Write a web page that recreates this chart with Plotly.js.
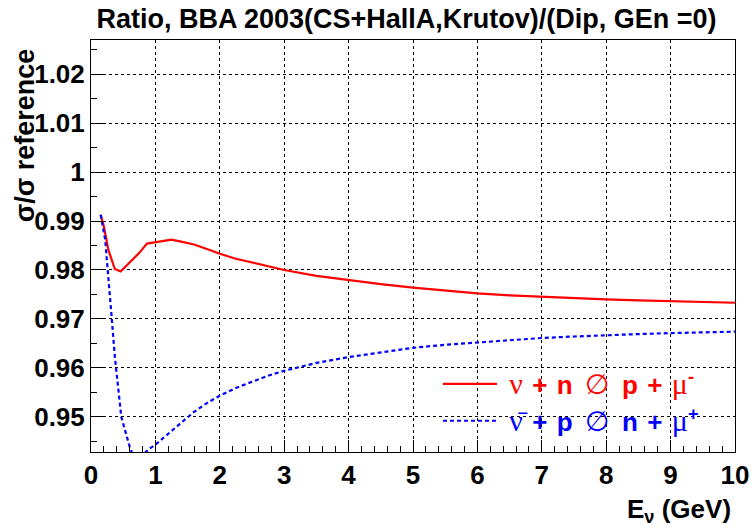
<!DOCTYPE html>
<html>
<head>
<meta charset="utf-8">
<script src="https://cdn.plot.ly/plotly-3.0.1.min.js"></script>
<style>
html,body{margin:0;padding:0;background:#fff;}
#chart{width:754px;height:531px;}
</style>
</head>
<body>
<div id="chart"></div>
<script>
// ---- data ----
var energyNu = [0.15, 0.2, 0.27, 0.37, 0.46, 0.6, 0.75, 0.87, 1.0, 1.25, 1.4, 1.6, 1.8, 2.0, 2.25, 2.5, 2.75, 3.0, 3.5, 4.0, 4.5, 5.0, 5.5, 6.0, 6.5, 7.0, 7.5, 8.0, 8.5, 9.0, 9.5, 10.0];
var ratioNu = [0.9913, 0.9889, 0.9841, 0.9802, 0.9797, 0.9815, 0.9835, 0.9854, 0.9857, 0.9862, 0.9858, 0.9852, 0.9843, 0.9833, 0.9823, 0.9815, 0.9807, 0.9800, 0.9788, 0.9779, 0.9771, 0.9764, 0.9758, 0.9752, 0.9748, 0.9745, 0.9742, 0.9740, 0.9738, 0.9736, 0.9734, 0.9733];

var energyNuBar = [0.15, 0.22, 0.32, 0.37, 0.47, 0.6, 0.7, 0.8, 0.85, 0.9, 1.0, 1.2, 1.4, 1.6, 1.8, 2.0, 2.25, 2.5, 2.75, 3.0, 3.5, 4.0, 4.5, 5.0, 5.5, 6.0, 6.5, 7.0, 7.5, 8.0, 8.5, 9.0, 9.5, 10.0];
var ratioNuBar = [0.9913, 0.9862, 0.9705, 0.9623, 0.9500, 0.9439, 0.9405, 0.9414, 0.9428, 0.9434, 0.9443, 0.9466, 0.9489, 0.9510, 0.9528, 0.9543, 0.9559, 0.9572, 0.9584, 0.9594, 0.9610, 0.9622, 0.9632, 0.9641, 0.9647, 0.9652, 0.9657, 0.9661, 0.9664, 0.9667, 0.9669, 0.9671, 0.9673, 0.9674];

var yTickVals = [0.95, 0.96, 0.97, 0.98, 0.99, 1.00, 1.01, 1.02];
var yTickText = ["0.95", "0.96", "0.97", "0.98", "0.99", "1", "1.01", "1.02"];
var xTickVals = [0, 1, 2, 3, 4, 5, 6, 7, 8, 9, 10];
var xTickText = ["0", "1", "2", "3", "4", "5", "6", "7", "8", "9", "10"];

var chartTitle = "Ratio, BBA 2003(CS+HallA,Krutov)/(Dip, GEn =0)";
var yTitle = "\u03c3/\u03c3 reference";
var xTitle = "E<sub>\u03bd</sub> (GeV)";

var G = '<span style="font-family:\'Liberation Serif\';font-weight:normal;font-size:30px">';
var A = '<span style="font-family:\'DejaVu Sans\';font-weight:normal;font-size:28px">';
var S = ' \u200a';          // slightly wider gap
var W = ' \u2009';          // gap around the arrow glyph
var nameNu = '\u00a0' + G + '\u03bd</span>' + S + '+' + S + 'n' + W + A + '\u2205</span>' + W + 'p' + S + '+' + S + G + '\u03bc</span><sup>-</sup>';
var nameNuBar = '\u00a0' + G + '\u03bd\u0304</span>' + S + '+' + S + 'p' + W + A + '\u2205</span>' + W + 'n' + S + '+' + S + G + '\u03bc</span><sup>+</sup>';

var BOLD = "Liberation Sans, Arial, sans-serif";

var traces = [
  {
    x: energyNu, y: ratioNu, type: "scatter", mode: "lines",
    name: nameNu,
    line: {color: "#ff0000", width: 2.2},
    legendgroup: "a"
  },
  {
    x: energyNuBar, y: ratioNuBar, type: "scatter", mode: "lines",
    name: nameNuBar,
    line: {color: "#0000ff", width: 2.2, dash: "4px,3px"},
    legendgroup: "b"
  }
];

var axisCommon = {
  showline: true, linecolor: "#000", linewidth: 1, mirror: true,
  ticks: "inside", tickcolor: "#000", tickwidth: 1, ticklen: 12,
  showgrid: true, gridcolor: "#000", gridwidth: 1, griddash: "dot",
  zeroline: false,
  tickfont: {family: BOLD, size: 26, color: "#000", weight: "bold"}
};

var layout = {
  width: 754, height: 531,
  margin: {l: 91, r: 19, t: 40, b: 79},
  paper_bgcolor: "#fff", plot_bgcolor: "#fff",
  showlegend: true,
  hovermode: false,
  title: {
    text: chartTitle,
    font: {family: BOLD, size: 27, color: "#000", weight: "bold"},
    x: 0.49, xanchor: "center", xref: "paper",
    y: 0.965, yanchor: "middle", yref: "container"
  },
  xaxis: Object.assign({}, axisCommon, {
    range: [0, 10],
    tickmode: "array", tickvals: xTickVals, ticktext: xTickText,
    minor: {dtick: 0.2, tick0: 0, ticks: "inside", ticklen: 6, tickcolor: "#000", showgrid: false}
  }),
  yaxis: Object.assign({}, axisCommon, {
    range: [0.9428, 1.0270],
    tickmode: "array", tickvals: yTickVals, ticktext: yTickText,
    minor: {dtick: 0.005, tick0: 0.95, ticks: "inside", ticklen: 6, tickcolor: "#000", showgrid: false}
  }),
  legend: {
    x: 0.5388, y: 0.222, xanchor: "left", yanchor: "top",
    bgcolor: "rgba(0,0,0,0)", borderwidth: 0,
    itemwidth: 54,
    font: {family: BOLD, size: 26, color: "#000", weight: "bold"},
    tracegroupgap: 0
  },
  annotations: [
    {
      text: yTitle, xref: "paper", yref: "paper",
      x: -0.1025, y: 0.985, xanchor: "center", yanchor: "top",
      textangle: -90, showarrow: false,
      font: {family: BOLD, size: 27, color: "#000", weight: "bold"}
    },
    {
      text: xTitle, xref: "paper", yref: "paper",
      x: 0.997, y: -0.142, xanchor: "right", yanchor: "middle",
      showarrow: false,
      font: {family: BOLD, size: 26, color: "#000", weight: "bold"}
    }
  ]
};

Plotly.newPlot("chart", traces, layout, {displayModeBar: false, staticPlot: true}).then(function () {
  // colour legend text like the reference: red row / blue row
  var texts = document.querySelectorAll(".legendtext");
  var cols = ["#ff0000", "#0000ff"];
  texts.forEach(function (t, i) { t.style.fill = cols[i]; });
  // longer legend line samples, as in the reference
  document.querySelectorAll(".legendlines path").forEach(function (p) {
    p.setAttribute("d", "M5,0h54");
  });
});
</script>
</body>
</html>
